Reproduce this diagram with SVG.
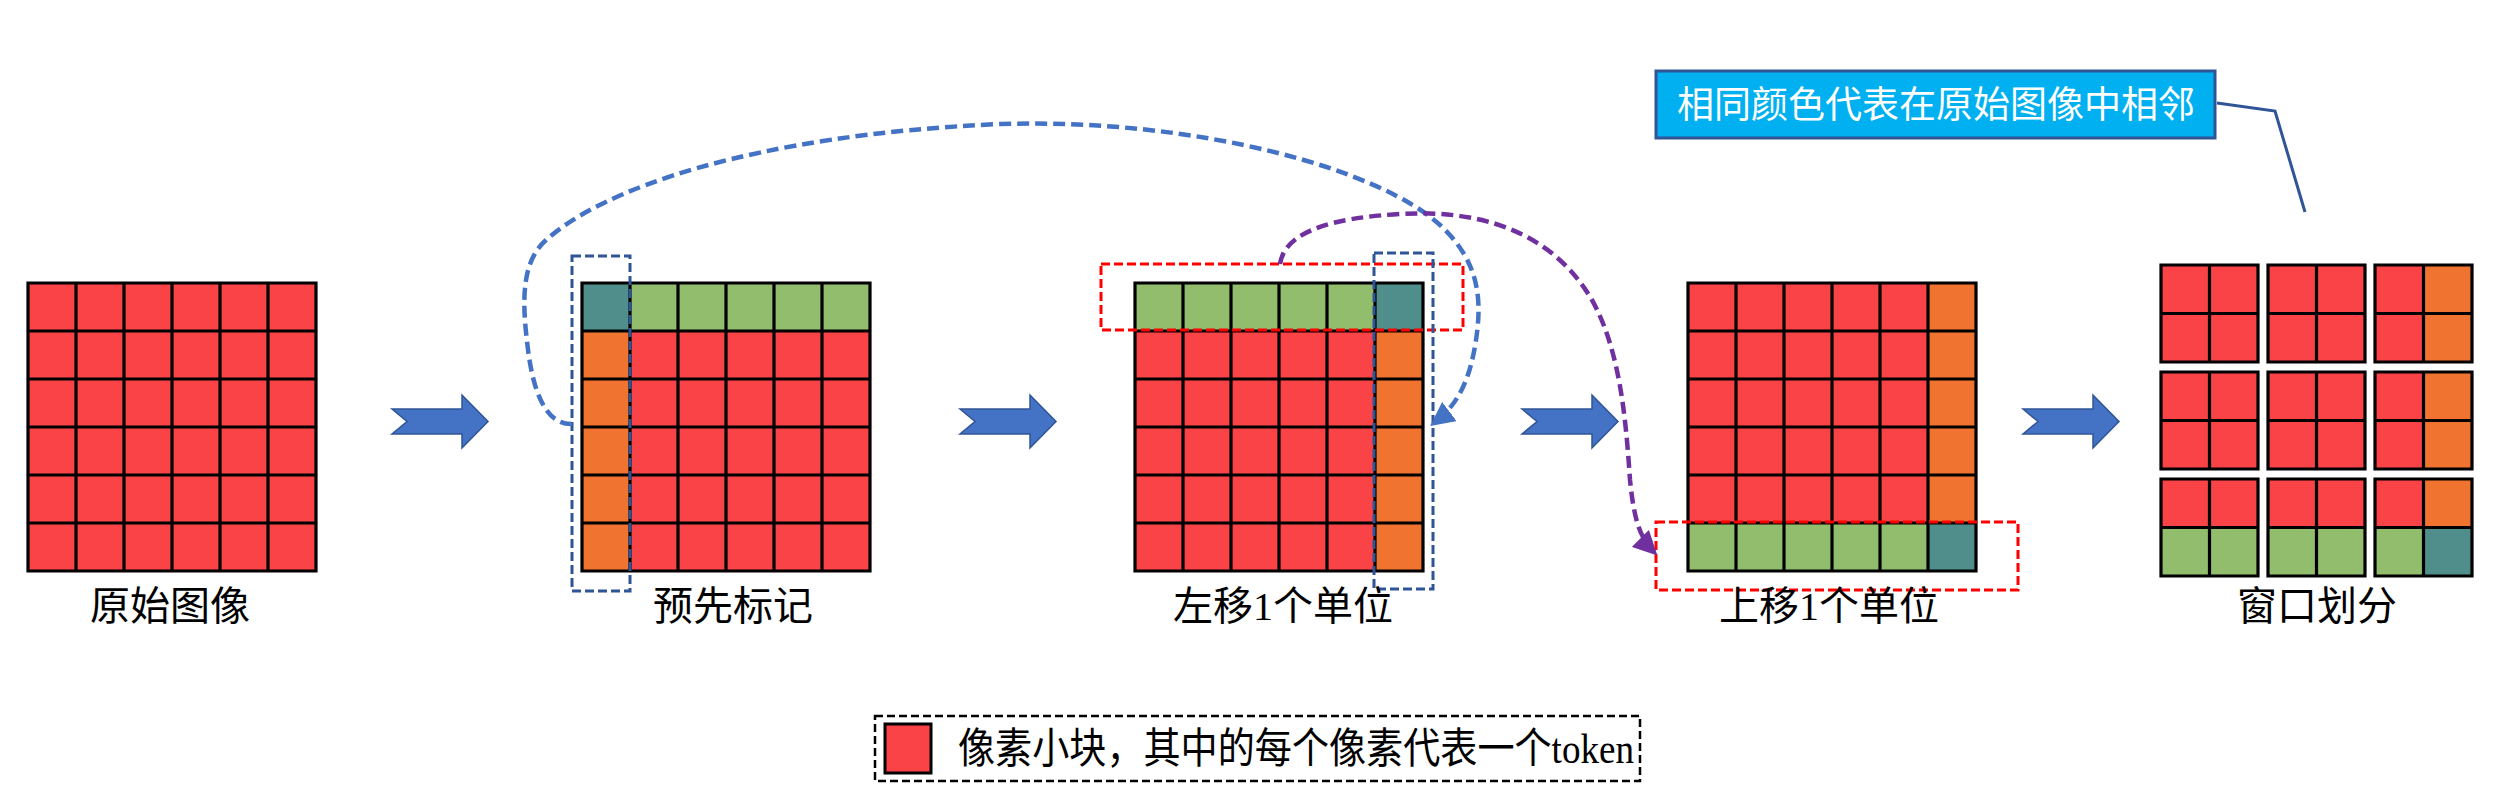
<svg xmlns="http://www.w3.org/2000/svg" xmlns:xlink="http://www.w3.org/1999/xlink" width="2508" height="808" viewBox="0 0 2508 808">
<style>
.r{fill:#F94346}.o{fill:#F0742F}.g{fill:#92BD6D}.t{fill:#4F8E8B}
.gl{fill:none;stroke:#000;stroke-width:3.2}
.lbl{font-family:"Liberation Serif","Noto Sans CJK SC",serif;font-size:40px;fill:#000;text-anchor:middle}
.blk{fill:#4472C4;stroke:#2F5597;stroke-width:1.5}
.bbox{fill:none;stroke:#2F5597;stroke-width:3;stroke-dasharray:9 4}
.rbox{fill:none;stroke:#FF0000;stroke-width:3;stroke-dasharray:9 4}
</style>
<defs>
<path id="l6" class="gl" d="M0 0H288V288H0Z M48 0V288 M96 0V288 M144 0V288 M192 0V288 M240 0V288 M0 48H288 M0 96H288 M0 144H288 M0 192H288 M0 240H288"/>
<path id="l2" class="gl" d="M0 0H97V97H0Z M48.5 0V97 M0 48.5H97"/>
<path id="blk" class="blk" d="M0 14H70V0L96 26.5L70 53V39H0L15 26.5Z"/>
<marker id="mb" viewBox="0 0 10 10" refX="8" refY="5" markerWidth="24" markerHeight="24" markerUnits="userSpaceOnUse" orient="auto"><path d="M0 0L10 5L0 10Z" fill="#4472C4"/></marker>
<marker id="mp" viewBox="0 0 10 10" refX="8" refY="5" markerWidth="24" markerHeight="24" markerUnits="userSpaceOnUse" orient="auto"><path d="M0 0L10 5L0 10Z" fill="#7030A0"/></marker>
</defs>
<rect width="2508" height="808" fill="#fff"/>

<g id="grid1">
<rect class="r" x="28" y="283" width="288" height="288"/>
<use xlink:href="#l6" x="28" y="283"/>
<text class="lbl" x="170" y="620">原始图像</text>
</g>

<g id="grid2">
<rect class="r" x="582" y="283" width="288" height="288"/>
<rect class="g" x="582" y="283" width="288" height="48"/>
<rect class="o" x="582" y="283" width="48" height="288"/>
<rect class="t" x="582" y="283" width="48" height="48"/>
<use xlink:href="#l6" x="582" y="283"/>
<rect class="bbox" x="572" y="256" width="58" height="335"/>
<text class="lbl" x="733" y="620">预先标记</text>
</g>

<g id="grid3">
<rect class="r" x="1135" y="283" width="288" height="288"/>
<rect class="g" x="1135" y="283" width="288" height="48"/>
<rect class="o" x="1375" y="283" width="48" height="288"/>
<rect class="t" x="1375" y="283" width="48" height="48"/>
<use xlink:href="#l6" x="1135" y="283"/>
<rect class="rbox" x="1101" y="264" width="362" height="66"/>
<rect class="bbox" x="1374" y="253" width="59" height="336"/>
<text class="lbl" x="1283" y="620">左移1个单位</text>
</g>

<g id="grid4">
<rect class="r" x="1688" y="283" width="288" height="288"/>
<rect class="o" x="1928" y="283" width="48" height="288"/>
<rect class="g" x="1688" y="523" width="288" height="48"/>
<rect class="t" x="1928" y="523" width="48" height="48"/>
<use xlink:href="#l6" x="1688" y="283"/>
<rect class="rbox" x="1656" y="522" width="362" height="68"/>
<text class="lbl" x="1829" y="620">上移1个单位</text>
</g>

<g id="grid5">
<rect class="r" x="2161" y="265" width="97" height="97"/>
<use xlink:href="#l2" x="2161" y="265"/>
<rect class="r" x="2268" y="265" width="97" height="97"/>
<use xlink:href="#l2" x="2268" y="265"/>
<rect class="r" x="2375" y="265" width="97" height="97"/>
<rect class="o" x="2423.5" y="265" width="48.5" height="97"/>
<use xlink:href="#l2" x="2375" y="265"/>
<rect class="r" x="2161" y="372" width="97" height="97"/>
<use xlink:href="#l2" x="2161" y="372"/>
<rect class="r" x="2268" y="372" width="97" height="97"/>
<use xlink:href="#l2" x="2268" y="372"/>
<rect class="r" x="2375" y="372" width="97" height="97"/>
<rect class="o" x="2423.5" y="372" width="48.5" height="97"/>
<use xlink:href="#l2" x="2375" y="372"/>
<rect class="r" x="2161" y="479" width="97" height="97"/>
<rect class="g" x="2161" y="527.5" width="97" height="48.5"/>
<use xlink:href="#l2" x="2161" y="479"/>
<rect class="r" x="2268" y="479" width="97" height="97"/>
<rect class="g" x="2268" y="527.5" width="97" height="48.5"/>
<use xlink:href="#l2" x="2268" y="479"/>
<rect class="r" x="2375" y="479" width="97" height="97"/>
<rect class="g" x="2375" y="527.5" width="97" height="48.5"/>
<rect class="o" x="2423.5" y="479" width="48.5" height="48.5"/>
<rect class="t" x="2423.5" y="527.5" width="48.5" height="48.5"/>
<use xlink:href="#l2" x="2375" y="479"/>
<text class="lbl" x="2317" y="620">窗口划分</text>
</g>

<g id="callout">
<rect x="1656" y="71" width="559" height="67" fill="#00B0F0" stroke="#2F5597" stroke-width="3"/>
<text x="1936" y="118" font-family="Noto Sans CJK SC,sans-serif" font-size="37" fill="#fff" text-anchor="middle">相同颜色代表在原始图像中相邻</text>
<polyline points="2217,103 2275,111 2305,212" fill="none" stroke="#2F5597" stroke-width="3"/>
</g>

<g id="legend">
<rect x="875" y="716" width="765" height="65" fill="none" stroke="#000" stroke-width="2.5" stroke-dasharray="8 4"/>
<rect class="r" x="885" y="724" width="46" height="49" stroke="#000" stroke-width="3"/>
<text x="958" y="763" font-family="Liberation Serif,Noto Sans CJK SC,serif" font-size="42" textLength="676" lengthAdjust="spacingAndGlyphs">像素小块，其中的每个像素代表一个token</text>
</g>

<g id="connectors">
<use xlink:href="#blk" x="392" y="395"/>
<use xlink:href="#blk" x="960" y="395"/>
<use xlink:href="#blk" x="1522" y="395"/>
<use xlink:href="#blk" x="2023" y="395"/>
<path d="M572 424 C545 425 532 390 527 341 C522 300 522 262 545 241 C600 190 750 135 1000 124 C1200 118 1380 170 1440 225 C1480 262 1482 300 1476 340 C1470 380 1458 405 1434 423" fill="none" stroke="#4472C4" stroke-width="4.5" stroke-dasharray="12 6" marker-end="url(#mb)"/>
<path d="M1280 264 C1285 232 1330 218 1400 214 C1500 208 1560 245 1592 300 C1620 350 1626 420 1630 480 C1634 520 1640 538 1654 552" fill="none" stroke="#7030A0" stroke-width="4.5" stroke-dasharray="12 6" marker-end="url(#mp)"/>
</g>
</svg>
